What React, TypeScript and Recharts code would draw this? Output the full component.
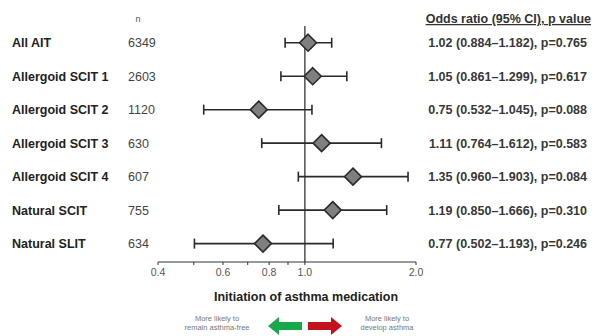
import React from 'react';
import { ScatterChart, Scatter, XAxis, YAxis, ErrorBar, ReferenceLine } from 'recharts';

const groups = ['All AIT', 'Allergoid SCIT 1', 'Allergoid SCIT 2', 'Allergoid SCIT 3', 'Allergoid SCIT 4', 'Natural SCIT', 'Natural SLIT'];
const counts = [6349, 2603, 1120, 630, 607, 755, 634];
const oddsRatio = [1.02, 1.05, 0.75, 1.11, 1.35, 1.19, 0.77];
const ciLow = [0.884, 0.861, 0.532, 0.764, 0.96, 0.85, 0.502];
const ciHigh = [1.182, 1.299, 1.045, 1.612, 1.903, 1.666, 1.193];
const pValues = [0.765, 0.617, 0.088, 0.583, 0.084, 0.31, 0.246];
const xTicks = [0.4, 0.5, 0.6, 0.7, 0.8, 0.9, 1.0, 2.0];
const xLabels = [0.4, 0.6, 0.8, 1.0, 2.0];

const FONT = '"Liberation Sans", Arial, sans-serif';

// one point per row, the error is given as [below, above] the estimate
const rows = groups.map((g, i) => ({
  name: g,
  or: oddsRatio[i],
  row: i,
  err: [oddsRatio[i] - ciLow[i], ciHigh[i] - oddsRatio[i]],
}));

const fmt3 = (v: number) => v.toFixed(3);

const RowTick = (props: any) => {
  const { y, payload } = props;
  const i = payload.value;
  if (i < 0 || i >= groups.length) return null;
  const txt = `${oddsRatio[i].toFixed(2)} (${fmt3(ciLow[i])}\u2013${fmt3(ciHigh[i])}), p=${fmt3(pValues[i])}`;
  return (
    <g fontFamily={FONT}>
      <text x={12} y={y} dy={4.5} fontSize={12.5} fontWeight="bold" fill="#222">{groups[i]}</text>
      <text x={128} y={y} dy={4.5} fontSize={12.5} fill="#444">{counts[i]}</text>
      <text x={587} y={y} dy={4.5} fontSize={12.5} fontWeight="bold" fill="#383838" textAnchor="end">{txt}</text>
    </g>
  );
};

const Diamond = (props: any) => {
  const { cx, cy } = props;
  const r = 8.5;
  return (
    <polygon
      points={`${cx},${cy - r} ${cx + r},${cy} ${cx},${cy + r} ${cx - r},${cy}`}
      fill="#7f7f7f"
      stroke="#2a2a2a"
      strokeWidth={1.6}
    />
  );
};

const App = () => {
  return (
    <div style={{ position: 'absolute', left: 0, top: 0, width: 599, height: 336, background: '#fff' }}>
      <ScatterChart width={599} height={336} margin={{ top: 26, right: 183, bottom: 44, left: 0 }}>
        <XAxis
          type="number"
          dataKey="or"
          scale="log"
          domain={[0.4, 2]}
          ticks={xTicks}
          allowDataOverflow
          tickFormatter={(v: number) => (xLabels.includes(v) ? v.toFixed(1) : '')}
          tickSize={3}
          tickMargin={4}
          height={30}
          stroke="#333"
          tick={{ fontSize: 10.5, fill: '#555', fontFamily: FONT }}
          label={{ value: 'Initiation  of asthma medication', position: 'bottom', offset: 0, fontSize: 12.5, fontWeight: 'bold', fill: '#222', fontFamily: FONT, dx: 19, style: { whiteSpace: 'pre' } }}
        />
        <YAxis
          type="number"
          dataKey="row"
          domain={[-0.5, 6.55]}
          ticks={[0, 1, 2, 3, 4, 5, 6]}
          reversed
          width={158}
          axisLine={false}
          tickLine={false}
          tick={RowTick}
        />
        <ReferenceLine x={1} stroke="#333" strokeWidth={1.3} />
        <Scatter data={rows} shape={Diamond} isAnimationActive={false}>
          <ErrorBar dataKey="err" direction="x" width={5} stroke="#2a2a2a" strokeWidth={1.6} />
        </Scatter>
      </ScatterChart>
      <svg width={599} height={336} style={{ position: 'absolute', left: 0, top: 0, pointerEvents: 'none' }} fontFamily={FONT}>
        <text x={138} y={22} fontSize={9} fill="#555" textAnchor="middle">n</text>
        <text x={591} y={23} fontSize={12.5} fontWeight="bold" fill="#333" textAnchor="end" textDecoration="underline">
          Odds ratio (95% CI), p value
        </text>
        <text x={217} y={321} fontSize={7.5} fill="#777" textAnchor="middle">More likely to</text>
        <text x={217} y={330} fontSize={7.5} fill="#777" textAnchor="middle">remain asthma-free</text>
        <text x={387} y={321} fontSize={7.5} fill="#777" textAnchor="middle">More likely to</text>
        <text x={387} y={330} fontSize={7.5} fill="#777" textAnchor="middle">develop asthma</text>
        <polygon points="268,326 279,317 279,322 302,322 302,330 279,330 279,335" fill="#17a84a" />
        <polygon points="342,326 331,317 331,322 308,322 308,330 331,330 331,335" fill="#c4121c" />
      </svg>
    </div>
  );
};

export default App;
